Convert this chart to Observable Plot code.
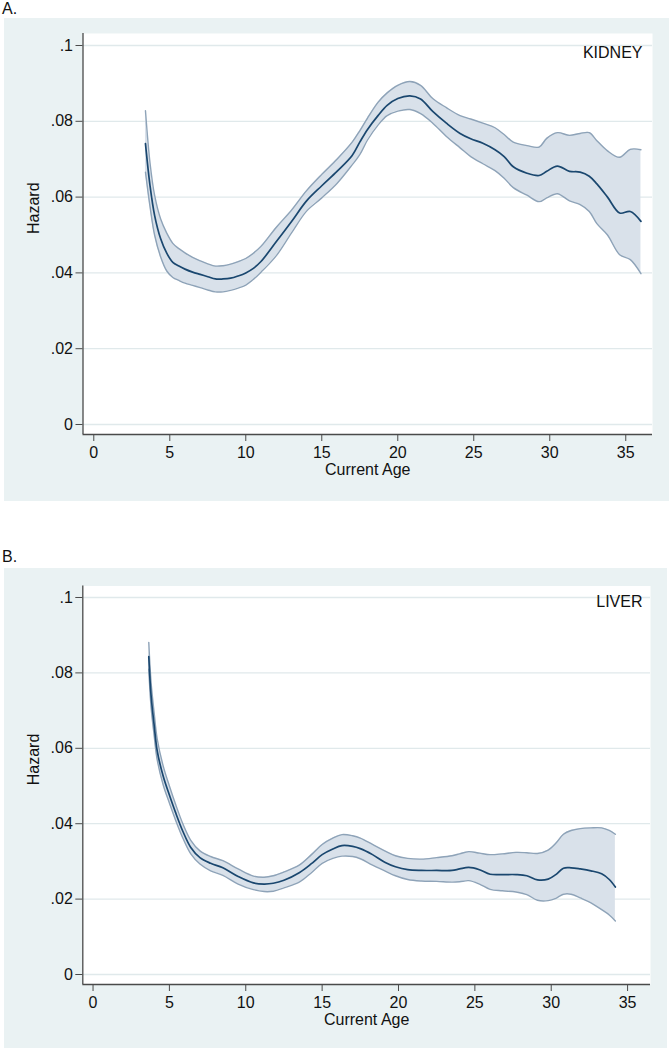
<!DOCTYPE html>
<html><head><meta charset="utf-8">
<script src="https://cdn.jsdelivr.net/npm/d3@7"></script>
<script src="https://cdn.jsdelivr.net/npm/@observablehq/plot@0.6"></script>
<style>
body{margin:0;background:#fff;font-family:"Liberation Sans",Arial,Helvetica,sans-serif;}
#page{position:relative;width:669px;height:1050px;overflow:hidden;}
.plabel{position:absolute;left:2px;font-size:16px;color:#111;line-height:1;}
.panel{position:absolute;background:#eaf2f3;}
.panel svg{display:block;}
</style></head><body><div id="page">
<div class="plabel" style="top:1px">A.</div>
<div class="panel" id="pa" style="left:4px;top:18px;width:665px;height:483px"></div>
<div class="plabel" style="top:548.5px">B.</div>
<div class="panel" id="pb" style="left:4px;top:568px;width:663px;height:480px"></div>
</div>
<script>
const xTicks = [0, 5, 10, 15, 20, 25, 30, 35];
const yTicks = [0, 0.02, 0.04, 0.06, 0.08, 0.1];
const yTickLabels = ["0", ".02", ".04", ".06", ".08", ".1"];
const xLabel = "Current Age";
const yLabel = "Hazard";

const kidneyAge = [3.4,3.7,4.0,4.4,4.8,5.2,5.6,6.0,6.5,7.0,7.5,8.0,8.5,9.0,9.5,10.0,10.5,11.0,12.0,13.0,14.0,15.0,16.0,17.0,17.5,18.0,18.7,19.3,20.0,20.8,21.5,22.3,23.2,24.1,24.8,25.6,26.4,27.0,27.6,28.5,29.3,29.8,30.5,31.3,32.0,32.6,33.1,33.8,34.6,35.3,36.0];
const kidneyLower = [.0666,.0575,.0500,.0442,.0405,.0388,.0380,.0373,.0367,.0361,.0355,.0350,.0350,.0354,.0360,.0368,.0383,.0402,.0445,.0505,.0563,.0598,.0636,.0685,.0712,.0750,.0790,.0815,.0827,.0831,.0820,.0795,.0760,.0730,.0707,.0688,.0670,.0650,.0625,.0605,.0588,.0598,.0609,.0590,.0580,.0562,.0530,.0500,.0448,.0435,.0398];
const kidneyHazard = [.0741,.0630,.0552,.0490,.0452,.0428,.0418,.0410,.0402,.0396,.0390,.0384,.0384,.0386,.0392,.0400,.0412,.0430,.0482,.0535,.0590,.0630,.0668,.0710,.0745,.0778,.0815,.0842,.0860,.0867,.0859,.0826,.0795,.0768,.0754,.0742,.0725,.0707,.0680,.0663,.0657,.0668,.0682,.0668,.0666,.0655,.0635,.0600,.0558,.0562,.0536];
const kidneyUpper = [.0828,.0690,.0605,.0542,.0505,.0478,.0464,.0453,.0441,.0432,.0424,.0418,.0419,.0423,.0430,.0438,.0452,.0470,.0520,.0565,.0617,.0660,.0700,.0745,.0775,.0808,.0850,.0875,.0895,.0905,.0895,.0860,.0836,.0815,.0806,.0795,.0783,.0765,.0745,.0736,.0732,.0755,.0770,.0763,.0768,.0770,.0749,.0722,.0705,.0726,.0725];

const liverAge = [3.65,3.8,4.0,4.2,4.6,5.0,5.4,5.9,6.4,7.0,7.7,8.5,9.5,10.5,11.2,11.8,12.5,13.5,14.3,15.0,15.7,16.3,17.0,17.5,18.3,19.1,19.8,20.6,21.5,22.5,23.5,24.0,24.6,25.3,26.0,26.8,27.7,28.4,29.1,29.8,30.3,30.8,31.3,31.9,32.6,33.3,33.8,34.2];
const liverLower = [.0810,.0710,.0635,.0570,.0502,.0455,.0410,.0360,.0320,.0293,.0275,.0263,.0240,.0225,.0220,.0221,.0230,.0245,.0270,.0295,.0308,.0314,.0313,.0307,.0290,.0275,.0262,.0252,.0248,.0247,.0245,.0246,.0249,.0240,.0226,.0222,.0219,.0212,.0197,.0196,.0202,.0213,.0213,.0203,.0190,.0172,.0158,.0142];
const liverHazard = [.0843,.0740,.0662,.0594,.0525,.0476,.0430,.0378,.0337,.0310,.0295,.0283,.0260,.0243,.0240,.0242,.0250,.0270,.0294,.0318,.0333,.0342,.0340,.0334,.0318,.0298,.0286,.0278,.0276,.0276,.0276,.0280,.0284,.0278,.0266,.0265,.0265,.0262,.0251,.0253,.0265,.0282,.0283,.0280,.0275,.0267,.0252,.0232];
const liverUpper = [.0881,.0775,.0695,.0625,.0552,.0500,.0452,.0398,.0356,.0328,.0313,.0302,.0280,.0261,.0258,.0262,.0272,.0290,.0318,.0345,.0362,.0371,.0368,.0362,.0345,.0328,.0315,.0308,.0306,.0310,.0315,.0320,.0326,.0322,.0318,.0320,.0324,.0323,.0321,.0330,.0348,.0372,.0382,.0387,.0389,.0389,.0382,.0372];

const FONT = '"Liberation Sans", Arial, Helvetica, sans-serif';
const FS = 16;
const curve = "catmull-rom";

function panel(el, o) {
  const data = o.age.map((a, i) => ({age: a, hazard: o.hazard[i], lower: o.lower[i], upper: o.upper[i]}));
  const chart = Plot.plot({
    width: o.width, height: o.height,
    marginLeft: o.ml, marginRight: o.mr, marginTop: o.mt, marginBottom: o.mb,
    style: {background: "transparent", fontFamily: FONT, fontSize: FS + "px", color: "#111", overflow: "visible"},
    x: {domain: o.xDomain},
    y: {domain: o.yDomain},
    marks: [
      Plot.frame({fill: "white", stroke: null}),
      Plot.gridY(yTicks, {stroke: "#e0e9eb", strokeOpacity: 1, strokeWidth: 1.3}),
      Plot.areaY(data, {x: "age", y1: "lower", y2: "upper", fill: "#d9e1ea", fillOpacity: 1, curve}),
      Plot.line(data, {x: "age", y: "lower", stroke: "#8ea3b8", strokeWidth: 1.4, curve}),
      Plot.line(data, {x: "age", y: "upper", stroke: "#8ea3b8", strokeWidth: 1.4, curve}),
      Plot.line(data, {x: "age", y: "hazard", stroke: "#1a476f", strokeWidth: 1.7, curve}),
      Plot.ruleX([o.xDomain[0]], {stroke: "#4a4a4a", strokeWidth: 1.3}),
      Plot.ruleY([o.yDomain[0]], {stroke: "#4a4a4a", strokeWidth: 1.3}),
      Plot.axisY(yTicks, {tickSize: 7, tickPadding: 3, stroke: "#4a4a4a", fill: "#111", fontSize: FS,
        tickFormat: d => yTickLabels[yTicks.indexOf(d)], label: null}),
      Plot.axisX(xTicks, {tickSize: 7, tickPadding: 5, stroke: "#4a4a4a", fill: "#111", fontSize: FS,
        tickFormat: d => String(d), label: null}),
      Plot.text([yLabel], {text: d => d, frameAnchor: "left", rotate: -90, dx: -49, fill: "#111", fontSize: FS}),
      Plot.text([xLabel], {text: d => d, frameAnchor: "bottom", lineAnchor: "top", dy: 29.5, fill: "#111", fontSize: FS}),
      Plot.text([o.name], {text: d => d, frameAnchor: "top-right", textAnchor: "end", lineAnchor: "top",
        dx: o.nameDx, dy: o.nameDy, fill: "#111", fontSize: FS})
    ]
  });
  document.getElementById(el).appendChild(chart);
}

panel("pa", {
  age: kidneyAge, hazard: kidneyHazard, lower: kidneyLower, upper: kidneyUpper, name: "KIDNEY",
  width: 665, height: 483, ml: 78.5, mr: 17, mt: 15, mb: 67,
  xDomain: [-0.71, 36.76], yDomain: [-0.00264, 0.10317], nameDx: -10, nameDy: 13.5
});
panel("pb", {
  age: liverAge, hazard: liverHazard, lower: liverLower, upper: liverUpper, name: "LIVER",
  width: 663, height: 480, ml: 78.3, mr: 17, mt: 17.5, mb: 64,
  xDomain: [-0.67, 36.5], yDomain: [-0.00265, 0.10305], nameDx: -8, nameDy: 9.5
});
</script>
</body></html>
